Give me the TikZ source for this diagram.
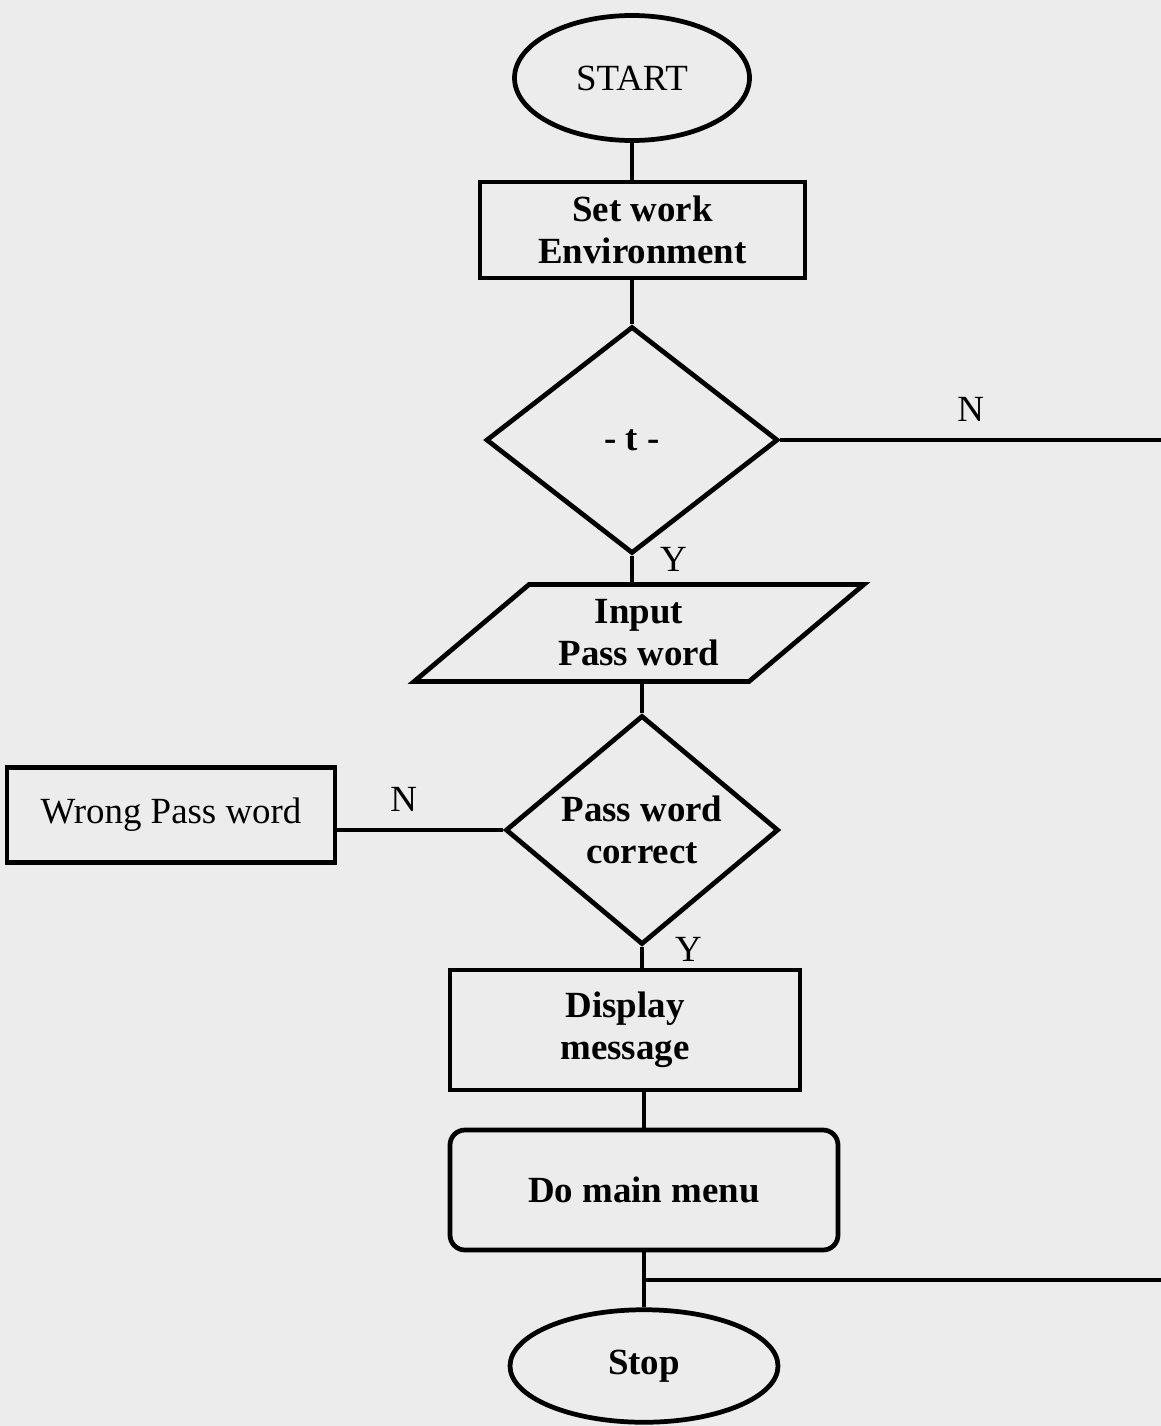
\documentclass[tikz,border=0pt]{standalone}
\usepackage{fontspec}
\setmainfont{Liberation Serif}
\usepackage{tikz}
\usetikzlibrary{shapes,positioning,calc}
\usepackage{xcolor}
\definecolor{paper}{RGB}{236,236,236}
\newcommand{\flowfont}{\fontsize{21}{24}\selectfont}

\tikzset{
  flowline/.style={line width=2.7pt},
  process/.style={draw, line width=2.7pt, align=center, font=\flowfont\bfseries},
  terminal/.style={draw, ellipse, line width=2.7pt, font=\flowfont},
  decision/.style={draw, diamond, line width=2.7pt, inner sep=0pt, align=center, font=\flowfont\bfseries},
  inout/.style={draw, trapezium, trapezium left angle=41, trapezium right angle=139,
    trapezium stretches=true, line width=2.7pt, align=center, font=\flowfont\bfseries},
  branch/.style={font=\flowfont}
}

\begin{document}
\begin{tikzpicture}
% Paper
\fill[paper] (0,0) rectangle (23.22,-28.52);
\useasboundingbox (0,0) rectangle (23.22,-28.52);

% Main column
\node[terminal, minimum width=4.7cm, minimum height=2.5cm] (start) at (12.64,-1.56) {START};
\node[process, minimum width=6.5cm, minimum height=1.92cm] (setenv) at (12.85,-4.6) {Set work\\Environment};
\node[decision, minimum width=5.84cm, minimum height=4.54cm] (tcheck) at (12.64,-8.8) {- t -};
\node[inout, minimum width=9cm, minimum height=1.94cm] (input) at (12.78,-12.66) {Input\\Pass word};
\node[decision, minimum width=5.46cm, minimum height=4.4cm] (pwcheck) at (12.84,-16.6) {Pass word\\correct};
\node[process, minimum width=7cm, minimum height=2.4cm] (display) at (12.5,-20.6) {Display\\message};
\node[process, rounded corners=0.3cm, minimum width=7.76cm, minimum height=2.4cm] (menu) at (12.88,-23.8) {Do main menu};
\node[terminal, minimum width=5.36cm, minimum height=2.25cm, font=\flowfont\bfseries] (stop) at (12.88,-27.32) {Stop};

% Side box
\node[process, font=\flowfont, minimum width=6.56cm, minimum height=1.9cm] (wrongpw) at (3.42,-16.3) {Wrong Pass word};

% Free ends at the right edge
\coordinate (tout) at (23.22,-8.8);
\coordinate (join) at ($(menu.south)!0.5!(stop.north)$);

% Connectors
\draw[flowline] (start.south) -- (start.south |- setenv.north);
\draw[flowline] (tcheck.north) -- (tcheck.north |- setenv.south);
\draw[flowline] (tcheck.south) -- (tcheck.south |- input.north) node[branch, pos=0.15, right=4mm] {Y};
\draw[flowline] (pwcheck.north) -- (pwcheck.north |- input.south);
\draw[flowline] (pwcheck.south) -- (pwcheck.south |- display.north) node[branch, pos=0.1, right=5mm] {Y};
\draw[flowline] (menu.north) -- (menu.north |- display.south);
\draw[flowline] (menu.south) -- (stop.north);
\draw[flowline] (tcheck.east) -- (tout) node[branch, midway, above=2mm] {N};
\draw[flowline] (pwcheck.west) -- (pwcheck.west -| wrongpw.east) node[branch, pos=0.6, above=2mm] {N};
\draw[flowline] (join) -- (join -| tout);
\end{tikzpicture}
\end{document}
